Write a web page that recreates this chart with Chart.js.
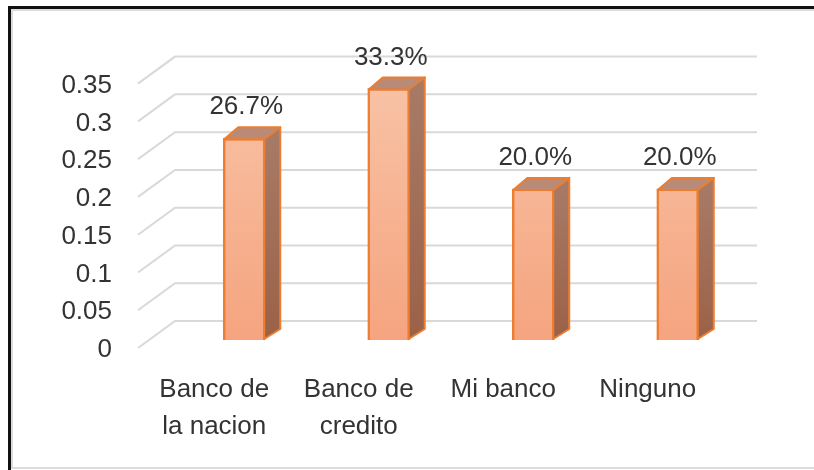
<!DOCTYPE html>
<html>
<head>
<meta charset="utf-8">
<script src="https://cdn.jsdelivr.net/npm/chart.js@4.4.1/dist/chart.umd.min.js"></script>
<style>
  html, body { margin: 0; padding: 0; background: #fff; }
  #wrap { width: 814px; height: 470px; position: relative; }
</style>
</head>
<body>
<div id="wrap"><canvas id="c" width="814" height="470"></canvas></div>
<script>
  // ---- Data ---------------------------------------------------
  var categories = [['Banco de', 'la nacion'], ['Banco de', 'credito'], ['Mi banco'], ['Ninguno']];
  var shares = [0.267, 0.333, 0.200, 0.200];
  var shareLabels = ['26.7%', '33.3%', '20.0%', '20.0%'];
  var yTickLabels = ['0', '0.05', '0.1', '0.15', '0.2', '0.25', '0.3', '0.35'];

  // ---- Look ----------------------------------------------------
  var FONT = "'Liberation Sans', Arial, sans-serif";
  var TEXT = '#333333';
  var ORANGE = '#ed7d31';
  var GRID = '#d9d9d9';

  // fake 3D offsets (pixels)
  var BAR_DX = 15, BAR_DY = -11;      // depth of each bar
  var WALL_SHIFT = -19;               // bar front -> back wall
  var WALL_DX = 37, WALL_DY = -27;    // back wall -> front edge of floor

  // ---- Frame of the screenshot --------------------------------
  var framePlugin = {
    id: 'frame',
    beforeDraw: function (chart) {
      var ctx = chart.ctx;
      ctx.save();
      ctx.fillStyle = '#ffffff';
      ctx.fillRect(0, 0, chart.width, chart.height);
      ctx.fillStyle = '#dcdcdc';
      ctx.fillRect(11, 9, chart.width - 11, 2);
      ctx.fillRect(11, 9, 2, 459);
      ctx.fillRect(11, 467, chart.width - 11, 2);
      ctx.fillStyle = '#111111';
      ctx.fillRect(8, 6, chart.width - 8, 3);
      ctx.fillRect(8, 6, 3, chart.height - 6);
      ctx.restore();
    }
  };

  // ---- Back wall gridlines with perspective --------------------
  var wallPlugin = {
    id: 'wall',
    beforeDatasetsDraw: function (chart) {
      var ctx = chart.ctx;
      var y = chart.scales.y;
      var area = chart.chartArea;
      var backLeft = area.left + 3;
      var backRight = area.right + 7;
      ctx.save();
      ctx.strokeStyle = GRID;
      ctx.lineWidth = 2;
      y.ticks.forEach(function (t) {
        var by = y.getPixelForValue(t.value) + WALL_SHIFT;
        ctx.beginPath();
        ctx.moveTo(backLeft - WALL_DX, by - WALL_DY);
        ctx.lineTo(backLeft, by);
        ctx.lineTo(backRight, by);
        ctx.stroke();
      });
      ctx.restore();
    }
  };

  // ---- Side / top faces and value labels -----------------------
  var barFacePlugin = {
    id: 'barFaces',
    afterDatasetsDraw: function (chart) {
      var ctx = chart.ctx;
      var meta = chart.getDatasetMeta(0);
      ctx.save();
      ctx.lineJoin = 'round';
      ctx.lineWidth = 2;
      ctx.strokeStyle = ORANGE;
      meta.data.forEach(function (bar, i) {
        var l = bar.x - bar.width / 2;
        var r = bar.x + bar.width / 2;
        var top = bar.y;
        var bottom = bar.base;

        // side face
        var g = ctx.createLinearGradient(0, top, 0, bottom);
        g.addColorStop(0, '#a77a66');
        g.addColorStop(1, '#9b6147');
        ctx.fillStyle = g;
        ctx.beginPath();
        ctx.moveTo(r - 1, top);
        ctx.lineTo(r + BAR_DX, top + BAR_DY);
        ctx.lineTo(r + BAR_DX, bottom + BAR_DY);
        ctx.lineTo(r - 1, bottom - 1);
        ctx.closePath();
        ctx.fill();
        ctx.stroke();

        // top face
        ctx.fillStyle = '#b98b76';
        ctx.beginPath();
        ctx.moveTo(l + 1, top + 1);
        ctx.lineTo(l + BAR_DX, top + BAR_DY);
        ctx.lineTo(r + BAR_DX, top + BAR_DY);
        ctx.lineTo(r - 1, top + 1);
        ctx.closePath();
        ctx.fill();
        ctx.stroke();

        // value label
        ctx.fillStyle = TEXT;
        ctx.font = '26px ' + FONT;
        ctx.textAlign = 'center';
        ctx.textBaseline = 'middle';
        ctx.fillText(shareLabels[i], bar.x + 2, top - 31);
      });
      ctx.restore();
    }
  };

  var ctx = document.getElementById('c').getContext('2d');
  new Chart(ctx, {
    type: 'bar',
    data: {
      labels: categories,
      datasets: [{
        data: shares,
        backgroundColor: function (c) {
          var area = c.chart.chartArea;
          if (!area) return '#f6b291';
          var g = c.chart.ctx.createLinearGradient(0, area.top, 0, area.bottom);
          g.addColorStop(0, '#f8c3a6');
          g.addColorStop(1, '#f5a47f');
          return g;
        },
        borderColor: ORANGE,
        borderWidth: 2.5,
        barThickness: 42
      }]
    },
    options: {
      responsive: false,
      animation: false,
      layout: { padding: { left: 0, right: 64, top: 74, bottom: 0 } },
      plugins: {
        legend: { display: false },
        tooltip: { enabled: false }
      },
      scales: {
        x: {
          grid: { display: false, drawTicks: false },
          border: { display: false },
          afterFit: function (axis) { axis.height = 130; },
          ticks: {
            autoSkip: false,
            maxRotation: 0,
            padding: 31,
            labelOffset: -30,
            color: TEXT,
            font: { family: FONT, size: 26, lineHeight: 1.44 }
          }
        },
        y: {
          min: 0,
          max: 0.35,
          grid: { display: false, drawTicks: false },
          border: { display: false },
          afterFit: function (axis) { axis.width = 172; },
          ticks: {
            stepSize: 0.05,
            padding: 60,
            labelOffset: 10,
            color: TEXT,
            font: { family: FONT, size: 26 },
            callback: function (v, i) { return yTickLabels[i]; }
          }
        }
      }
    },
    plugins: [framePlugin, wallPlugin, barFacePlugin]
  });
</script>
</body>
</html>
